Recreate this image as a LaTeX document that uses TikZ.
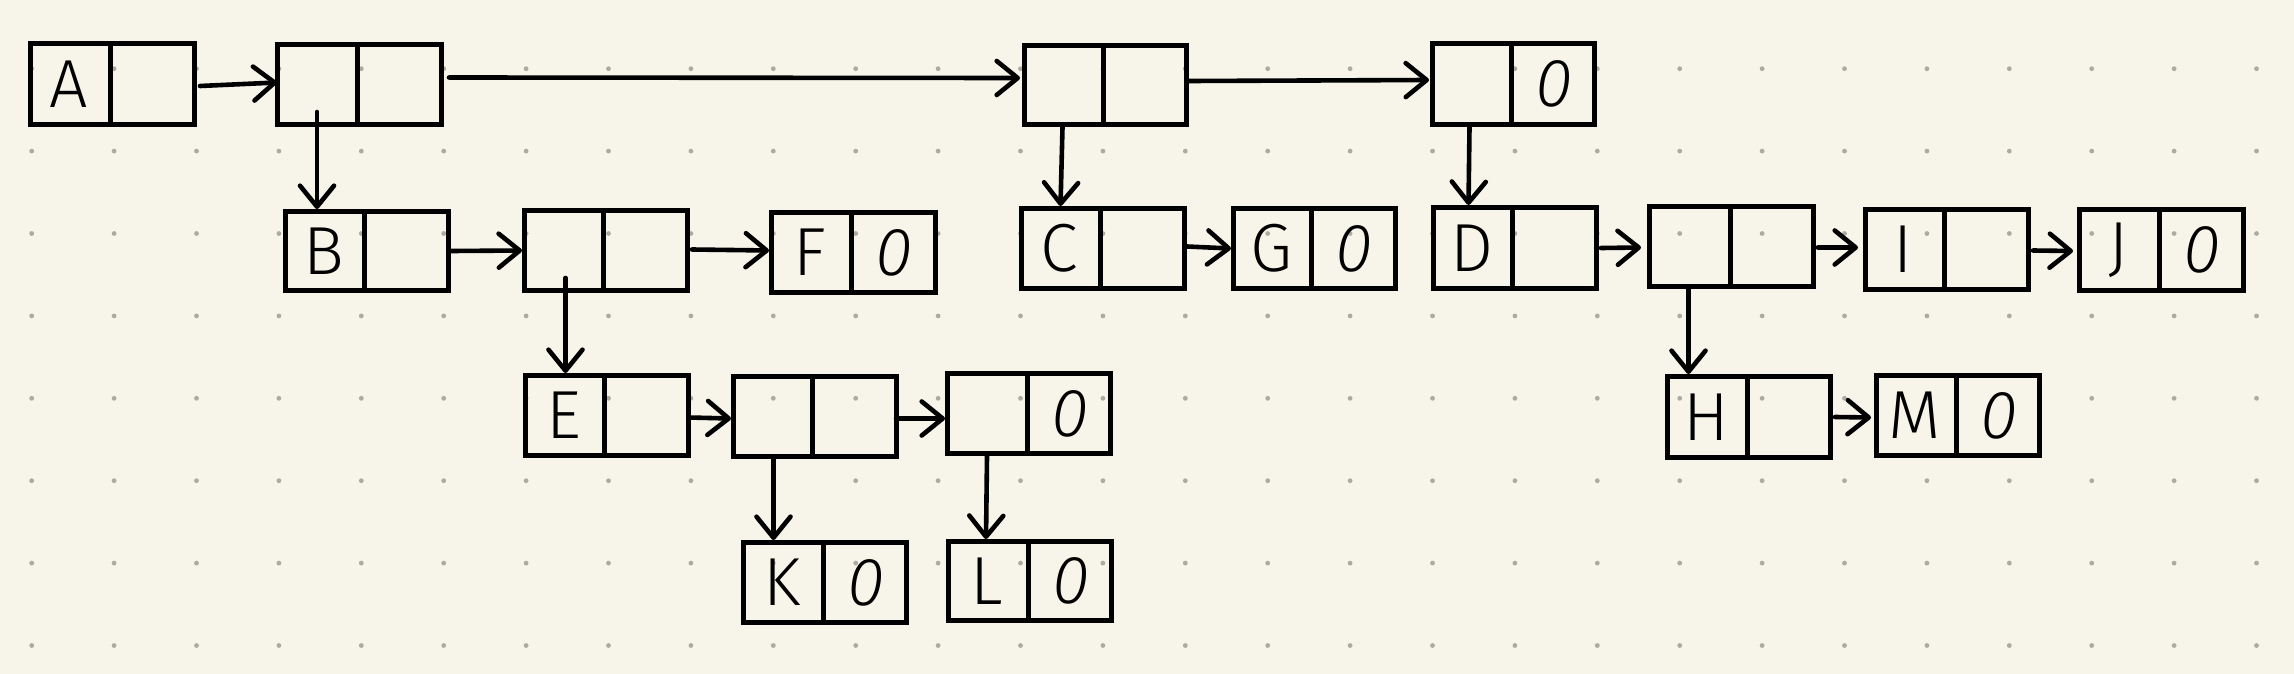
\documentclass[tikz,border=0pt]{standalone}
\usepackage{fontspec}
\newfontfamily\hand{Fira Sans Light}
\usetikzlibrary{arrows.meta,calc}
\definecolor{paper}{RGB}{247,245,233}
\definecolor{dotc}{RGB}{172,171,162}
\tikzset{
  boxs/.style={draw=black, line width=5pt, rectangle, inner sep=0pt, line join=miter},
  ln/.style={draw=black, line width=5pt},
  lbl/.style={inner sep=0pt, font=\hand\fontsize{68}{68}\selectfont},
  arr/.style={line width=4.6pt, line cap=round,
    -{Straight Barb[length=21pt,width=34pt,line width=4.6pt,round]}},
}
\newcommand\zero{{\itshape 0}}
\newcommand\lcell[8]{%
  \pgfmathsetmacro\cw{#4-#2-5}\pgfmathsetmacro\ch{#5-#3-5}%
  \node[boxs, minimum width=\cw pt, minimum height=\ch pt] (#1) at ({(#2+#4)/2},{(#3+#5)/2}) {};
  \draw[ln] ({#6},{#3+2}) -- ({#6},{#5-2});
  \node[lbl] (#1-l) at ({(#2+#6)/2},{(#3+#5)/2}) {#7};
  \node[lbl] (#1-r) at ({(#6+#4)/2},{(#3+#5)/2}) {#8};
}
\begin{document}
\begin{tikzpicture}[x=1pt,y=-1pt]
\useasboundingbox (0,0) rectangle (2294,674);
\fill[paper] (0,0) rectangle (2294,674);
\foreach \i in {0,...,27}{
  \foreach \j in {0,...,7}{
    \fill[dotc] ({31.7+82.4*\i},{68.7+82.4*\j}) circle (2.4pt);
  }
}
% boxes
\lcell{A}{28}{41}{197}{127}{110}{A}{}
\lcell{n2}{275}{42}{444}{127}{357}{}{}
\lcell{n3}{1022}{43}{1189}{127}{1103}{}{}
\lcell{n4}{1430}{41}{1597}{127}{1511}{}{\zero}
\lcell{B}{283}{209}{451}{293}{364}{B}{}
\lcell{n6}{522}{208}{690}{293}{603}{}{}
\lcell{F}{769}{210}{938}{295}{851}{F}{\zero}
\lcell{C}{1019}{206}{1187}{291}{1100}{C}{}
\lcell{G}{1231}{206}{1398}{291}{1311}{G}{\zero}
\lcell{D}{1431}{205}{1599}{291}{1512}{D}{}
\lcell{n11}{1647}{204}{1816}{289}{1730}{}{}
\lcell{I}{1863}{207}{2031}{292}{1944}{I}{}
\lcell{J}{2077}{207}{2246}{293}{2159}{J}{\zero}
\lcell{E}{523}{373}{691}{458}{604}{E}{}
\lcell{n15}{731}{374}{899}{459}{812}{}{}
\lcell{n16}{945}{371}{1113}{456}{1027}{}{\zero}
\lcell{H}{1665}{374}{1833}{460}{1747}{H}{}
\lcell{M}{1874}{373}{2042}{458}{1956}{M}{\zero}
\lcell{K}{741}{540}{909}{625}{823}{K}{\zero}
\lcell{L}{946}{539}{1114}{623}{1028}{L}{\zero}
% horizontal connectors
\draw[arr] ($(A.east)+(3,2)$) -- ($(n2.west)+(2,-2)$);
\draw[arr] ($(n2.east)+(5,-7)$) -- ($(n3.west)+(-2,-7)$);
\draw[arr] ($(n3.east)+(0,-4)$) -- ($(n4.west)+(-1,-4)$);
\draw[arr] (B.east) -- (n6.west);
\draw[arr] ($(n6.east)+(2,-1)$) -- ($(F.west)+(0,-2)$);
\draw[arr] ($(C.east)+(0,-2)$) -- (G.west);
\draw[arr] ($(D.east)+(2,0)$) -- ($(n11.west)+(-6,1)$);
\draw[arr] ($(n11.east)+(2,1)$) -- ($(I.west)+(-5,-2)$);
\draw[arr] ($(I.east)+(2,1)$) -- ($(J.west)+(-4,1)$);
\draw[arr] ($(E.east)+(-2,2)$) -- ($(n15.west)+(0,2)$);
\draw[arr] ($(n15.east)+(-3,2)$) -- ($(n16.west)+(0,5)$);
\draw[arr] ($(H.east)+(2,0)$) -- ($(M.west)+(-3,2)$);
% downward connectors
\draw[arr] ($(n2.south -| n2-l)+(1,-15)$) -- ($(B.north -| n2-l)+(1,0)$);
\draw[arr] (n3.south -| n3-l) -- ($(C.north -| n3-l)+(-2,0)$);
\draw[arr] ($(n4.south -| n4-l)+(-1,0)$) -- ($(D.north -| n4-l)+(-2,0)$);
\draw[arr] ($(n6.south -| n6-l)+(3,-15)$) -- ($(E.north -| n6-l)+(3,0)$);
\draw[arr] (n11.south -| n11-l) -- (H.north -| n11-l);
\draw[arr] ($(n15.south -| n15-l)+(2,0)$) -- ($(K.north -| n15-l)+(2,0)$);
\draw[arr] ($(n16.south -| n16-l)+(1,0)$) -- (L.north -| n16-l);
\end{tikzpicture}
\end{document}
